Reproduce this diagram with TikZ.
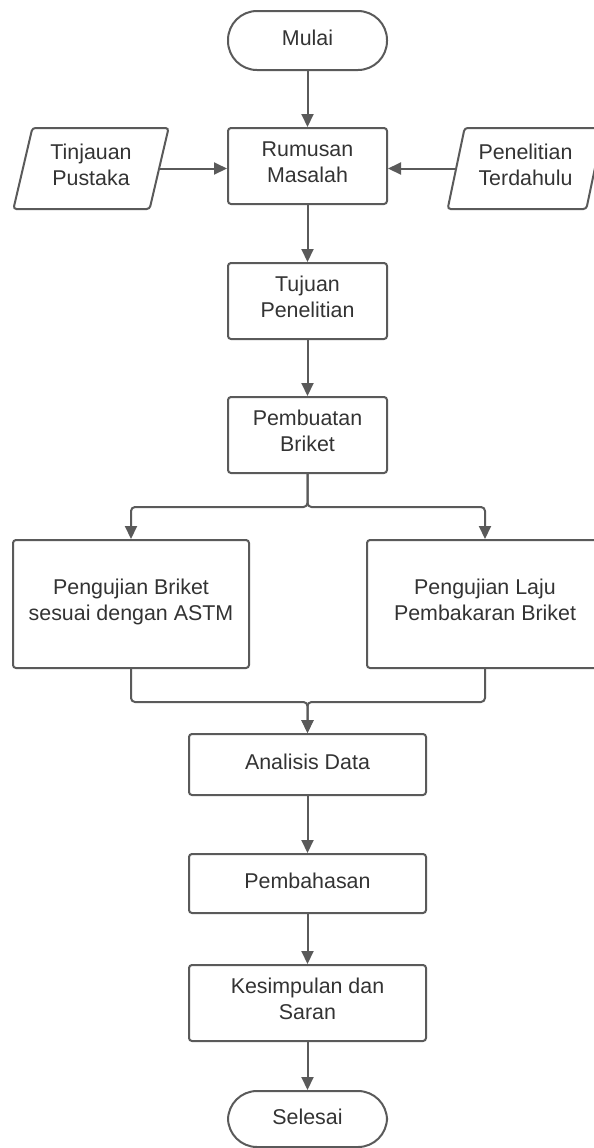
\documentclass[tikz,border=0pt]{standalone}
\usepackage{fontspec}
\setmainfont{Liberation Sans}
\usetikzlibrary{shapes.geometric,arrows.meta}
\definecolor{lnc}{HTML}{5A5A5A}
\definecolor{txc}{HTML}{333333}
\begin{document}
\begin{tikzpicture}[x=.5pt,y=-.5pt,font=\fontsize{10.7}{12.9}\selectfont,text=txc,
  box/.style={draw=lnc,line width=1pt,rounded corners=1.5pt,align=center,inner sep=0pt,execute at begin node=\strut,execute at end node=\strut},
  term/.style={box,rounded corners=14.5pt,minimum width=79.5pt},
  iobox/.style={box,trapezium,trapezium left angle=75,trapezium right angle=105,trapezium stretches=true,minimum width=78pt,minimum height=40.5pt},
  arr/.style={lnc,line width=1pt,rounded corners=2pt,-{Triangle[length=6.5pt,width=6pt]}}]
\useasboundingbox(0,0)rectangle(594,1148);
\node[term,minimum height=29.5pt](mulai)at(307.5,40.5){Mulai};
\node[box,minimum width=79.5pt,minimum height=38pt](rumusan)at(307.5,166){Rumusan\\Masalah};
\node[iobox](tinjauan)at(91,168.5){Tinjauan\\Pustaka};
\node[iobox](penelitian)at(525.5,168.5){Penelitian\\Terdahulu};
\node[box,minimum width=79.5pt,minimum height=38pt](tujuan)at(307.5,301){Tujuan\\Penelitian};
\node[box,minimum width=79.5pt,minimum height=38pt](pembuatan)at(307.5,435){Pembuatan\\Briket};
\node[box,minimum width=118pt,minimum height=64pt](ujiastm)at(131,604){Pengujian Briket\\sesuai dengan ASTM};
\node[box,minimum width=118pt,minimum height=64pt](ujilaju)at(485,604){Pengujian Laju\\Pembakaran Briket};
\node[box,minimum width=118.5pt,minimum height=30.5pt](analisis)at(307.5,764.5){Analisis Data};
\node[box,minimum width=118.5pt,minimum height=29.5pt](pembahasan)at(307.5,883.5){Pembahasan};
\node[box,minimum width=118.5pt,minimum height=38pt](kesimpulan)at(307.5,1003){Kesimpulan dan\\Saran};
\node[term,minimum height=28pt](selesai)at(307.5,1119){Selesai};
\coordinate(split)at(307.5,507);\coordinate(merge)at(307.5,702);
\draw[arr](mulai)--(rumusan);\draw[arr](rumusan)--(tujuan);\draw[arr](tujuan)--(pembuatan);
\draw[arr](tinjauan.east)--(tinjauan.east-|rumusan.west);
\draw[arr](penelitian.west)--(penelitian.west-|rumusan.east);
\foreach \n in {ujiastm,ujilaju}{\draw[arr](pembuatan.south)--(split)-|(\n.north);\draw[arr](\n.south)|-(merge)--(analisis.north);}
\draw[arr](analisis)--(pembahasan);\draw[arr](pembahasan)--(kesimpulan);\draw[arr](kesimpulan)--(selesai);
\end{tikzpicture}
\end{document}
